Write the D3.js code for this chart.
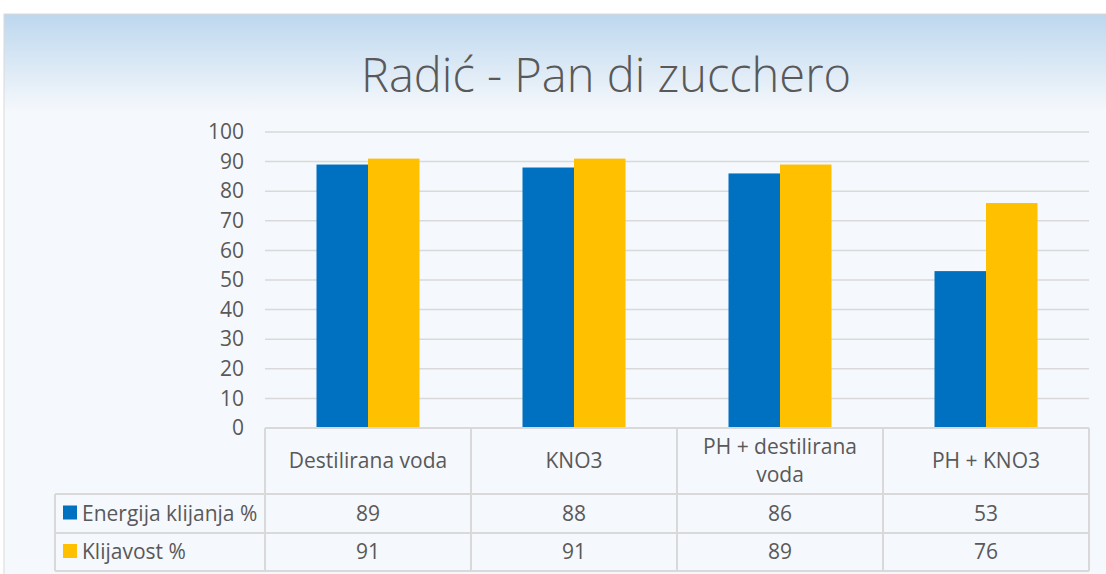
<!DOCTYPE html>
<html>
<head>
<meta charset="utf-8">
<script src="https://cdn.jsdelivr.net/npm/d3@7"></script>
<style>
  body { margin: 0; background: #fff; }
  svg { display: block; font-family: "Open Sans", sans-serif; }
</style>
</head>
<body>
<svg id="chart" width="1106" height="574"></svg>
<script>
// chart data
const categories = ['Destilirana voda', 'KNO3', 'PH + destilirana voda', 'PH + KNO3'];
const seriesNames = ['Energija klijanja %', 'Klijavost %'];
const energija = [89, 88, 86, 53];
const klijavost = [91, 91, 89, 76];
const yTicks = [0, 10, 20, 30, 40, 50, 60, 70, 80, 90, 100];
const colors = ['#0070C0', '#FFC000'];
const seriesValues = [energija, klijavost];

const svg = d3.select('#chart');
const textColor = '#595959';
const lineColor = '#d9d9d9';
const fs = 21;

// background with gradient
const defs = svg.append('defs');
const grad = defs.append('linearGradient')
    .attr('id', 'bg').attr('x1', 0).attr('y1', 0).attr('x2', 0).attr('y2', 1);
grad.append('stop').attr('offset', '0%').attr('stop-color', '#bdd7ee');
grad.append('stop').attr('offset', '17%').attr('stop-color', '#f5f8fc');
grad.append('stop').attr('offset', '100%').attr('stop-color', '#f5f8fc');

svg.append('rect')
    .attr('x', 4).attr('y', 14)
    .attr('width', 1110).attr('height', 570)
    .attr('fill', 'url(#bg)')
    .attr('stroke', '#d9d9d9');

// title
svg.append('text')
    .attr('x', 606).attr('y', 92)
    .attr('text-anchor', 'middle')
    .attr('font-size', 47)
    .attr('font-weight', 300)
    .attr('fill', textColor)
    .text('Radić - Pan di zucchero');

const plot = { left: 265, right: 1089, top: 132, bottom: 428 };

const x0 = d3.scaleBand()
    .domain(categories)
    .range([plot.left, plot.right]);

const x1 = d3.scaleBand()
    .domain(seriesNames)
    .range([x0.bandwidth() * 0.25, x0.bandwidth() * 0.75]);

const y = d3.scaleLinear()
    .domain([0, 100])
    .range([plot.bottom, plot.top]);

// gridlines
svg.append('g')
    .selectAll('line')
    .data(yTicks.filter(d => d > 0))
    .enter().append('line')
    .attr('x1', plot.left).attr('x2', plot.right)
    .attr('y1', d => y(d)).attr('y2', d => y(d))
    .attr('stroke', lineColor)
    .attr('stroke-width', 1.5);

// y axis labels
const yAxis = svg.append('g')
    .attr('transform', `translate(${plot.left},0)`)
    .call(d3.axisLeft(y).tickValues(yTicks).tickSize(0).tickPadding(21));
yAxis.select('.domain').remove();
yAxis.selectAll('text')
    .attr('font-family', '"Open Sans", sans-serif')
    .attr('font-size', fs)
    .attr('fill', textColor);

// bars
const groups = svg.append('g')
    .selectAll('g')
    .data(categories)
    .enter().append('g')
    .attr('transform', d => `translate(${x0(d)},0)`);

groups.selectAll('rect')
    .data((d, i) => seriesNames.map((s, j) => ({ series: s, value: seriesValues[j][i], color: colors[j] })))
    .enter().append('rect')
    .attr('x', d => x1(d.series))
    .attr('width', x1.bandwidth())
    .attr('y', d => y(d.value))
    .attr('height', d => y(0) - y(d.value))
    .attr('fill', d => d.color);

// data table
const rowY = [428, 494, 533, 571];
const tableLeft = 55;
const table = svg.append('g');

// horizontal lines
table.append('line')
    .attr('x1', plot.left).attr('x2', plot.right)
    .attr('y1', rowY[0]).attr('y2', rowY[0])
    .attr('stroke', lineColor).attr('stroke-width', 2);
rowY.slice(1).forEach(yy => {
    table.append('line')
        .attr('x1', tableLeft).attr('x2', plot.right)
        .attr('y1', yy).attr('y2', yy)
        .attr('stroke', lineColor).attr('stroke-width', 2);
});
// vertical lines
table.append('line')
    .attr('x1', tableLeft).attr('x2', tableLeft)
    .attr('y1', rowY[1]).attr('y2', rowY[3])
    .attr('stroke', lineColor).attr('stroke-width', 2);
categories.forEach(c => {
    table.append('line')
        .attr('x1', x0(c)).attr('x2', x0(c))
        .attr('y1', rowY[0]).attr('y2', rowY[3])
        .attr('stroke', lineColor).attr('stroke-width', 2);
});
table.append('line')
    .attr('x1', plot.right).attr('x2', plot.right)
    .attr('y1', rowY[0]).attr('y2', rowY[3])
    .attr('stroke', lineColor).attr('stroke-width', 2);

// header labels, wrapped to the column width
categories.forEach(c => {
    const cx = x0(c) + x0.bandwidth() / 2;
    const t = table.append('text')
        .attr('text-anchor', 'middle')
        .attr('font-size', fs)
        .attr('fill', textColor);
    const words = c.split(' ');
    const lines = [];
    let line = [];
    const probe = table.append('text').attr('font-size', fs);
    words.forEach(w => {
        line.push(w);
        probe.text(line.join(' '));
        if (probe.node().getComputedTextLength() > x0.bandwidth() - 20 && line.length > 1) {
            line.pop();
            lines.push(line.join(' '));
            line = [w];
        }
    });
    lines.push(line.join(' '));
    probe.remove();
    const mid = (rowY[0] + rowY[1]) / 2;
    const lh = 28;
    lines.forEach((l, k) => {
        t.append('tspan')
            .attr('x', cx)
            .attr('y', mid + 7 + (k - (lines.length - 1) / 2) * lh)
            .text(l);
    });
});

// series rows
seriesNames.forEach((s, j) => {
    const mid = (rowY[j + 1] + rowY[j + 2]) / 2;
    table.append('rect')
        .attr('x', 63).attr('y', mid - 8)
        .attr('width', 14).attr('height', 14)
        .attr('fill', colors[j]);
    table.append('text')
        .attr('x', 82).attr('y', mid + 7)
        .attr('font-size', fs)
        .attr('fill', textColor)
        .text(s);
    categories.forEach((c, i) => {
        table.append('text')
            .attr('x', x0(c) + x0.bandwidth() / 2)
            .attr('y', mid + 7)
            .attr('text-anchor', 'middle')
            .attr('font-size', fs)
            .attr('fill', textColor)
            .text(seriesValues[j][i]);
    });
});
</script>
</body>
</html>
